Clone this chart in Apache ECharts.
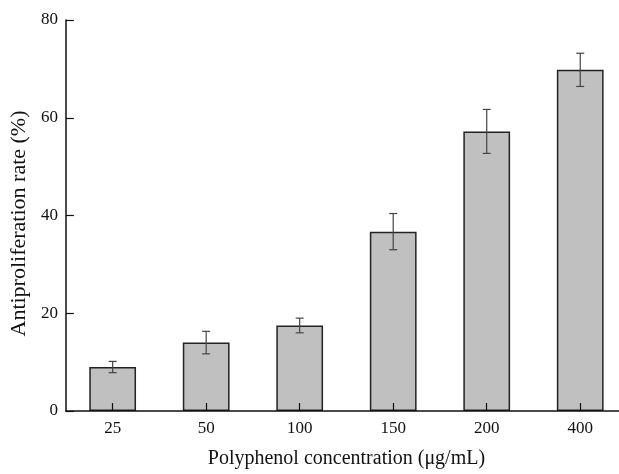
<!DOCTYPE html>
<html>
<head>
<meta charset="utf-8">
<script src="https://cdn.jsdelivr.net/npm/echarts@6/dist/echarts.min.js"></script>
<style>
  html, body { margin: 0; padding: 0; background: #fff; overflow: hidden; width: 619px; height: 474px; }
  #wrap { position: relative; width: 619px; height: 474px; overflow: hidden; }
  #chart { position: absolute; left: 0; top: 0; width: 627px; height: 474px; }
</style>
</head>
<body>
<div id="wrap"><div id="chart"></div></div>
<script>
// Polyphenol concentration groups (µg/mL)
const categories = ['25', '50', '100', '150', '200', '400'];
// Mean antiproliferation rate (%)
const meanRate = [9.0, 14.0, 17.5, 36.7, 57.2, 69.8];
// Standard deviation for each group (%)
const sdRate = [1.15, 2.3, 1.5, 3.7, 4.5, 3.4];
// Y axis ticks
const yTicks = [0, 20, 40, 60, 80];

const serif = '"Liberation Serif", "Times New Roman", serif';
const chart = echarts.init(document.getElementById('chart'), null, { renderer: 'canvas' });

const errorData = categories.map((c, i) => [i, meanRate[i] - sdRate[i], meanRate[i] + sdRate[i]]);

chart.setOption({
  backgroundColor: '#ffffff',
  animation: false,
  grid: { left: 64, right: 0, top: 20, bottom: 60, containLabel: false },
  xAxis: {
    type: 'category',
    data: categories,
    z: 10,
    name: 'Polyphenol concentration (μg/mL)',
    nameLocation: 'middle',
    nameGap: 38,
    nameTextStyle: { fontFamily: serif, fontSize: 20, color: '#111' },
    axisLine: { lineStyle: { color: '#111', width: 1.5 } },
    axisTick: { show: true, inside: true, length: 8, alignWithLabel: true, lineStyle: { color: '#111', width: 1.2 } },
    axisLabel: { fontFamily: serif, fontSize: 17, color: '#111', margin: 9 },
    splitLine: { show: false }
  },
  yAxis: {
    type: 'value',
    min: yTicks[0],
    max: yTicks[yTicks.length - 1],
    interval: 20,
    z: 10,
    name: 'Antiproliferation rate (%)',
    nameLocation: 'middle',
    nameGap: 29,
    nameTextStyle: { fontFamily: serif, fontSize: 22, color: '#111', padding: [0, 16, 0, 0] },
    axisLine: { show: true, lineStyle: { color: '#111', width: 1.5 } },
    axisTick: { show: true, inside: true, length: 8, lineStyle: { color: '#111', width: 1.2 } },
    axisLabel: { fontFamily: serif, fontSize: 17, color: '#111', margin: 8 },
    splitLine: { show: false }
  },
  series: [
    {
      type: 'bar',
      data: meanRate,
      barWidth: '50%',
      itemStyle: { color: '#c0c0c0', borderColor: '#222', borderWidth: 1.5 }
    },
    {
      type: 'custom',
      data: errorData,
      z: 10,
      renderItem: function (params, api) {
        const x = api.value(0);
        const lo = api.coord([x, api.value(1)]);
        const hi = api.coord([x, api.value(2)]);
        const cap = 4;
        const style = { stroke: '#444', lineWidth: 1.2 };
        return {
          type: 'group',
          children: [
            { type: 'line', shape: { x1: hi[0], y1: hi[1], x2: lo[0], y2: lo[1] }, style: style },
            { type: 'line', shape: { x1: hi[0] - cap, y1: hi[1], x2: hi[0] + cap, y2: hi[1] }, style: style },
            { type: 'line', shape: { x1: lo[0] - cap, y1: lo[1], x2: lo[0] + cap, y2: lo[1] }, style: style }
          ]
        };
      }
    }
  ]
});
</script>
</body>
</html>
